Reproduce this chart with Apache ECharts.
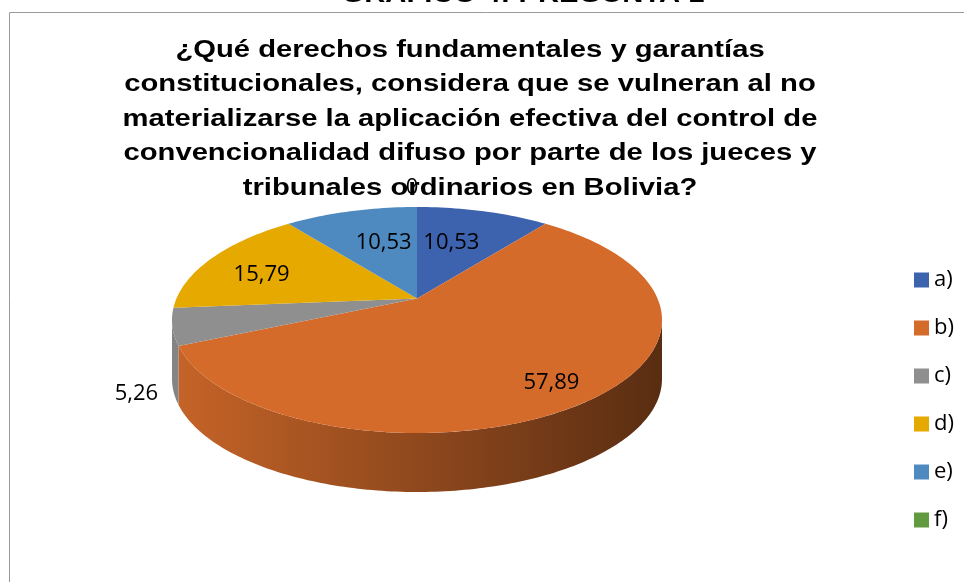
<!DOCTYPE html>
<html>
<head>
<meta charset="utf-8">
<script src="https://cdn.jsdelivr.net/npm/echarts@6/dist/echarts.min.js"></script>
<style>
  html, body { margin: 0; padding: 0; background: #fff; }
  #chart { width: 964px; height: 582px; }
</style>
</head>
<body>
<div id="chart"></div>
<script>
const categories = ["a)", "b)", "c)", "d)", "e)", "f)"];
const percents = [10.53, 57.89, 5.26, 15.79, 10.53, 0];
const titleLines = [
  "¿Qué derechos fundamentales y garantías",
  "constitucionales, considera que se vulneran al no",
  "materializarse la aplicación efectiva del control de",
  "convencionalidad difuso por parte de los jueces y",
  "tribunales ordinarios en Bolivia?"
];

const colors = ["#3d62ae", "#d56b2b", "#8f8f8f", "#e5a900", "#4e89c0", "#629a42"];
// label spots: radius on the disk, then a small nudge to match Excel's placement
const labelRadius = [0.6, 0.6, 1.25, 0.6, 0.6, 1.2];
const labelShift = [[-8, 0], [37, 28], [29, 60], [-29, 1], [9, 0], [-5, -4]];

// fake 3d disk
const cx = 417, cy = 320, rx = 245, ry = 113, depth = 59, tilt = 0.19;

function project(theta, rho) {
  const u = rho * Math.sin(theta), v = rho * Math.cos(theta);
  const d = 1 + tilt * v;
  const up = u * Math.sqrt(1 - tilt * tilt) / d;
  const vp = (v + tilt) / d;
  return [cx + rx * up, cy - ry * vp];
}

function screenAngle(theta) {
  const p = project(theta, 1);
  let a = Math.atan2((p[0] - cx) / rx, (cy - p[1]) / ry);
  if (a < 0) a += Math.PI * 2;
  return a;
}

function rim(phi, dy) {
  return [cx + rx * Math.sin(phi), cy - ry * Math.cos(phi) + (dy || 0)];
}

function arc(a0, a1, dy) {
  const n = Math.max(2, Math.ceil(Math.abs(a1 - a0) / 0.02));
  const pts = [];
  for (let k = 0; k <= n; k++) pts.push(rim(a0 + (a1 - a0) * k / n, dy));
  return pts;
}

function shade(hex, f) {
  const n = parseInt(hex.slice(1), 16);
  const r = Math.round(((n >> 16) & 255) * f);
  const g = Math.round(((n >> 8) & 255) * f);
  const b = Math.round((n & 255) * f);
  return "rgb(" + r + "," + g + "," + b + ")";
}

const starts = [];
let acc = 0;
percents.forEach(v => { starts.push(acc); acc += v; });

const series = categories.map((name, i) => ({
  type: "custom",
  name: name,
  coordinateSystem: "none",
  itemStyle: {color: colors[i]},
  data: [[starts[i], starts[i] + percents[i], percents[i]]],
  renderItem: function(params, api) {
    const t0 = api.value(0) / 100 * Math.PI * 2;
    const t1 = api.value(1) / 100 * Math.PI * 2;
    const children = [];
    if (t1 > t0) {
      const a0 = screenAngle(t0);
      const a1 = api.value(1) >= 100 ? Math.PI * 2 : screenAngle(t1);
      // side wall, only the front half is seen
      const w0 = Math.max(a0, Math.PI / 2), w1 = Math.min(a1, Math.PI * 1.5);
      if (w1 > w0) {
        const pts = arc(w0, w1, 0).concat(arc(w1, w0, depth));
        children.push({
          type: "polygon",
          shape: {points: pts},
          style: {
            fill: {
              type: "linear", x: cx - rx, y: 0, x2: cx + rx, y2: 0, global: true,
              colorStops: [
                {offset: 0, color: shade(colors[i], 0.93)},
                {offset: 1, color: shade(colors[i], 0.42)}
              ]
            }
          }
        });
      }
      children.push({
        type: "polygon",
        shape: {points: [project(0, 0)].concat(arc(a0, a1, 0))},
        style: {fill: colors[i]}
      });
    }
    const mid = (t0 + t1) / 2;
    const lp = project(mid, labelRadius[i]);
    children.push({
      type: "text",
      z2: 100,
      x: lp[0] + labelShift[i][0],
      y: lp[1] + labelShift[i][1],
      style: {
        text: String(api.value(2)).replace(".", ","),
        fill: "#000",
        font: '22px "Open Sans"',
        align: "center",
        verticalAlign: "middle"
      }
    });
    return {type: "group", children: children};
  }
}));

const chart = echarts.init(document.getElementById("chart"));

chart.setOption({
  animation: false,
  legend: {
    orient: "vertical",
    left: 909,
    top: 263,
    itemWidth: 15,
    itemHeight: 15,
    itemGap: 24,
    icon: "rect",
    selectedMode: false,
    textStyle: {fontFamily: "Open Sans", fontSize: 22, lineHeight: 24, color: "#000"},
    data: categories
  },
  graphic: [
    {type: "line", shape: {x1: 9.5, y1: 12.5, x2: 964, y2: 12.5}, style: {stroke: "#9a9a9a", lineWidth: 1}},
    {type: "line", shape: {x1: 9.5, y1: 12.5, x2: 9.5, y2: 582}, style: {stroke: "#9a9a9a", lineWidth: 1}},
    {
      type: "text", x: 523, y: 7, scaleX: 1.27,
      style: {text: "GRÁFICO 4: PREGUNTA 1", fill: "#000", font: 'bold 23px "Liberation Sans"', align: "center", verticalAlign: "bottom"}
    },
    {
      type: "text", x: 470, y: 33, scaleX: 1.27,
      style: {
        text: titleLines.join("\n"), fill: "#000", font: 'bold 23px "Liberation Sans"',
        align: "center", verticalAlign: "top", lineHeight: 34.5
      }
    }
  ],
  series: series
});
</script>
</body>
</html>
